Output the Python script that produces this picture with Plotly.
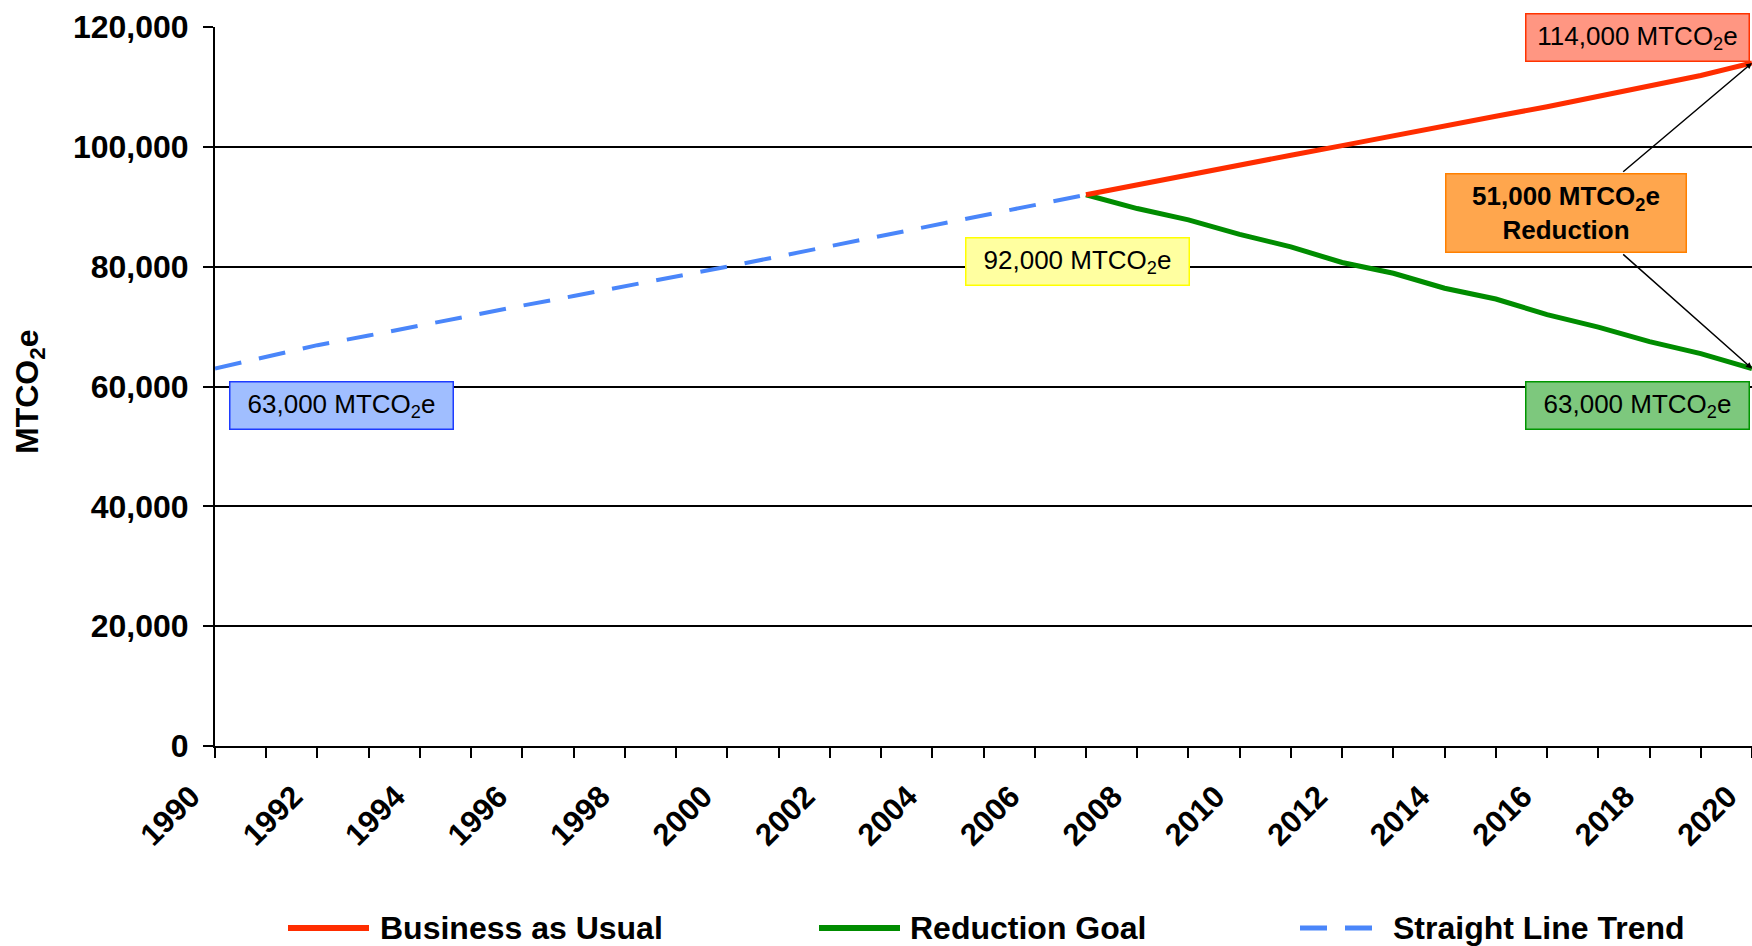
import plotly.graph_objects as go

# ---- data ----
trend_years = list(range(1990, 2008))
trend_values = [63000, 65000, 66900, 68500, 70200, 71800, 73500, 75100, 76700,
                78400, 80000, 81700, 83400, 85100, 86800, 88600, 90300, 92000]

future_years = list(range(2007, 2021))
bau_values = [92000, 93700, 95300, 97000, 98600, 100200, 101900, 103600, 105100,
              106700, 108400, 110200, 111900, 114000]
goal_values = [92000, 89700, 87800, 85400, 83300, 80700, 78900, 76400, 74600,
               72000, 69900, 67500, 65500, 63000]

series_names = ["Business as Usual", "Reduction Goal", "Straight Line Trend"]
y_ticks = [0, 20000, 40000, 60000, 80000, 100000, 120000]

# ---- layout geometry (pixels) ----
W, H = 1752, 946
L, T, B = 215, 27, 200
X0, X1 = 1990, 2020
Y0, Y1 = 0, 120000
plot_w = W - L
plot_h = H - T - B

FONT = "Liberation Sans, Arial, sans-serif"


def dx(px):
    return X0 + (px - L) / plot_w * (X1 - X0)


def dy(py):
    return Y0 + (H - B - py) / plot_h * (Y1 - Y0)


def paper_x(px):
    return (px - L) / plot_w


def paper_y(py):
    return (H - B - py) / plot_h


styles = {
    "Business as Usual": dict(color="rgb(255,45,0)", width=5, dash="solid"),
    "Reduction Goal": dict(color="rgb(0,140,0)", width=5, dash="solid"),
    "Straight Line Trend": dict(color="rgb(74,134,250)", width=4, dash="27px,18px"),
}

fig = go.Figure()
fig.add_trace(go.Scatter(x=trend_years, y=trend_values, mode="lines",
                         name=series_names[2], line=styles[series_names[2]]))
fig.add_trace(go.Scatter(x=future_years, y=goal_values, mode="lines",
                         name=series_names[1], line=styles[series_names[1]]))
fig.add_trace(go.Scatter(x=future_years, y=bau_values, mode="lines",
                         name=series_names[0], line=styles[series_names[0]]))

annotations = []

# value boxes
def value_box(text, cx, cy, bg, border, w=222, h=46, bold=False):
    return dict(
        x=dx(cx), y=dy(cy), xref="x", yref="y", text=text, showarrow=False,
        width=w, height=h, bgcolor=bg, bordercolor=border, borderwidth=1.5,
        borderpad=0, align="center", valign="middle",
        font=dict(family=FONT, size=26, color="black",
                  weight="bold" if bold else "normal"),
    )

unit = " MTCO<sub>2</sub>e"
annotations.append(value_box(f"{bau_values[-1]:,}{unit}", 1637, 37.5,
                             "rgb(255,150,130)", "rgb(255,51,0)"))
annotations.append(value_box(f"{goal_values[-1]:,}{unit}", 1637.5, 405,
                             "rgb(125,200,125)", "rgb(0,150,0)"))
annotations.append(value_box(f"{trend_values[-1]:,}{unit}", 1077.5, 261,
                             "rgb(255,255,160)", "rgb(255,255,0)"))
annotations.append(value_box(f"{trend_values[0]:,}{unit}", 341.5, 405,
                             "rgb(160,190,255)", "rgb(30,60,255)"))

reduction = bau_values[-1] - goal_values[-1]
annotations.append(value_box(f"{reduction:,}{unit}<br>Reduction", 1566, 213,
                             "rgb(255,166,77)", "rgb(255,128,0)",
                             w=239, h=77, bold=True))

# connectors from the reduction box to the 2020 end points
for tail_py, head_val in ((173, bau_values[-1]), (253, goal_values[-1])):
    annotations.append(dict(
        x=future_years[-1], y=head_val, xref="x", yref="y",
        ax=dx(1621.7), ay=dy(tail_py), axref="x", ayref="y",
        text="", showarrow=True, arrowhead=2, arrowsize=0.8,
        arrowwidth=1.5, arrowcolor="black", standoff=0, startstandoff=0,
    ))

# y-axis title
annotations.append(dict(
    x=paper_x(29), y=paper_y(392), xref="paper", yref="paper",
    text="MTCO<sub>2</sub>e", textangle=-90, showarrow=False,
    xanchor="center", yanchor="middle",
    font=dict(family=FONT, size=32, color="black", weight="bold"),
))

# legend entries drawn along the bottom
shapes = []
legend_items = [(series_names[0], 288, 369, 378),
                (series_names[1], 819, 900, 908),
                (series_names[2], 1300, 1377, 1391)]
legend_py = 928
for name, s0, s1, tx in legend_items:
    st = styles[name]
    shapes.append(dict(type="line", xref="paper", yref="paper",
                       x0=paper_x(s0), x1=paper_x(s1),
                       y0=paper_y(legend_py), y1=paper_y(legend_py),
                       line=dict(color=st["color"], width=st["width"] + 1,
                                 dash=st["dash"])))
    annotations.append(dict(
        x=paper_x(tx), y=paper_y(legend_py), xref="paper", yref="paper",
        text=name, showarrow=False, xanchor="left", yanchor="middle",
        font=dict(family=FONT, size=32, color="black", weight="bold"),
    ))

fig.update_layout(
    width=W, height=H,
    margin=dict(l=L, r=0, t=T, b=B, pad=0),
    paper_bgcolor="white", plot_bgcolor="white",
    showlegend=False,
    font=dict(family=FONT, color="black"),
    annotations=annotations,
    shapes=shapes,
    xaxis=dict(
        range=[X0, X1], tick0=1990, dtick=2, showgrid=False, zeroline=False,
        showline=True, linecolor="black", linewidth=2,
        ticks="outside", ticklen=10, tickwidth=2, tickcolor="black",
        tickangle=-45, tickfont=dict(family=FONT, size=31, weight="bold"),
        ticklabelshift=-24, ticklabelstandoff=8,
        minor=dict(dtick=1, ticks="outside", ticklen=10, tickwidth=2,
                   tickcolor="black", showgrid=False),
    ),
    yaxis=dict(
        range=[Y0, Y1], tickvals=y_ticks, tickformat=",d",
        showgrid=True, gridcolor="black", gridwidth=1.5, zeroline=False,
        showline=True, linecolor="black", linewidth=2,
        ticks="outside", ticklen=10, tickwidth=2, tickcolor="black",
        tickfont=dict(family=FONT, size=32, weight="bold"),
        ticklabelstandoff=8,
    ),
)

fig.write_html("out.html")
